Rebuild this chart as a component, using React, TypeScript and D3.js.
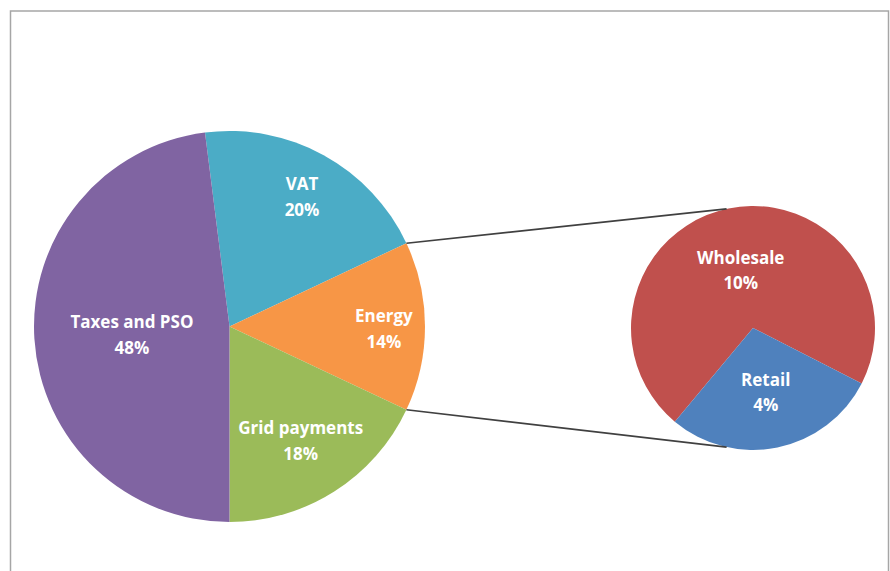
import React from "react";
import * as d3 from "d3";

// ---- data ----
const mainCategories = ["VAT", "Energy", "Grid payments", "Taxes and PSO"];
const mainValues = [20, 14, 18, 48];
const subCategories = ["Wholesale", "Retail"];
const subValues = [10, 4];

const mainColors = ["#4BACC6", "#F79646", "#9BBB59", "#8064A2"];
const subColors = ["#C0504D", "#4F81BD"];

// ---- layout ----
const W = 890;
const H = 571;
const mainC = { x: 229.5, y: 326.5, r: 195.5 };
const subC = { x: 753, y: 328, r: 122 };
const mainLabelFrac = [0.77, 0.79, 0.68, 0.5];
const subLabelFrac = [0.5, 0.52];
const deg = Math.PI / 180;

export default function App() {
  const total = d3.sum(mainValues);
  const mainPie = d3
    .pie<number>()
    .sort(null)
    .value((d) => d)
    .startAngle(-((mainValues[0] / total) * 360 - 64.8) * deg)
    .endAngle((360 - ((mainValues[0] / total) * 360 - 64.8)) * deg);
  const mainArcs = mainPie(mainValues);

  const subTotal = d3.sum(subValues);
  const retailSpan = (subValues[1] / subTotal) * 360;
  const subStart = 117 - (360 - retailSpan);
  const subPie = d3
    .pie<number>()
    .sort(null)
    .value((d) => d)
    .startAngle(subStart * deg)
    .endAngle((subStart + 360) * deg);
  const subArcs = subPie(subValues);

  const arcMain = d3.arc<d3.PieArcDatum<number>>().innerRadius(0).outerRadius(mainC.r);
  const arcSub = d3.arc<d3.PieArcDatum<number>>().innerRadius(0).outerRadius(subC.r);

  const pt = (c: { x: number; y: number }, r: number, a: number) => [
    c.x + r * Math.sin(a),
    c.y - r * Math.cos(a),
  ];

  // the energy slice (index 1) links to the secondary pie
  const e = mainArcs[1];
  const p1 = pt(mainC, mainC.r, e.startAngle);
  const p2 = pt(mainC, mainC.r, e.endAngle);
  const q1 = pt(subC, subC.r, -12.5 * deg);
  const q2 = pt(subC, subC.r, 192.5 * deg);

  const fmt = (v: number) => `${Math.round(v)}%`;
  const fontStyle = {
    fontFamily: "'Open Sans', 'Noto Sans', sans-serif",
    fontWeight: 700,
    fontSize: 17,
    fill: "#ffffff",
  } as const;

  return (
    <svg
      width={W}
      height={H}
      style={{ position: "absolute", left: 0, top: 0, background: "#fff" }}
    >
      <rect x={10.5} y={11} width={878} height={590} fill="#fff" stroke="#a6a6a6" strokeWidth={1.5} />
      <g transform={`translate(${mainC.x},${mainC.y})`}>
        {mainArcs.map((a, i) => (
          <path key={i} d={arcMain(a) || ""} fill={mainColors[i]} />
        ))}
      </g>
      <g transform={`translate(${subC.x},${subC.y})`}>
        {subArcs.map((a, i) => (
          <path key={i} d={arcSub(a) || ""} fill={subColors[i]} />
        ))}
      </g>
      <line x1={p1[0]} y1={p1[1]} x2={q1[0]} y2={q1[1]} stroke="#404040" strokeWidth={1.6} />
      <line x1={p2[0]} y1={p2[1]} x2={q2[0]} y2={q2[1]} stroke="#404040" strokeWidth={1.6} />
      {mainArcs.map((a, i) => {
        const m = (a.startAngle + a.endAngle) / 2;
        const [x, y] = pt(mainC, mainC.r * mainLabelFrac[i], m);
        return (
          <text key={i} x={x} y={y} textAnchor="middle" style={fontStyle}>
            <tspan x={x} dy="-0.25em">{mainCategories[i]}</tspan>
            <tspan x={x} dy="1.5em">{fmt((mainValues[i] / total) * 100)}</tspan>
          </text>
        );
      })}
      {subArcs.map((a, i) => {
        const m = (a.startAngle + a.endAngle) / 2;
        const [x, y] = pt(subC, subC.r * subLabelFrac[i], m);
        return (
          <text key={i} x={x} y={y} textAnchor="middle" style={fontStyle}>
            <tspan x={x} dy="-0.25em">{subCategories[i]}</tspan>
            <tspan x={x} dy="1.5em">{fmt((subValues[i] / total) * 100)}</tspan>
          </text>
        );
      })}
    </svg>
  );
}
